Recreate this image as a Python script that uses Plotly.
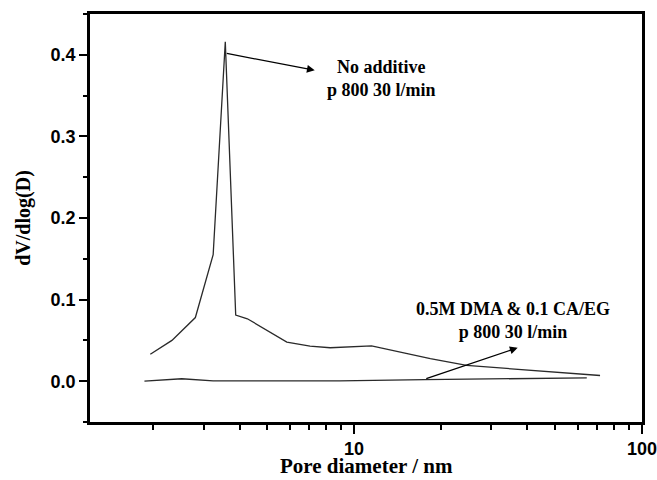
import math
import plotly.graph_objects as go

# No additive, p 800 30 l/min
d_noadd = [1.96, 2.33, 2.81, 3.24, 3.57, 3.88, 4.26, 4.97, 5.84, 7.03, 8.26, 11.5, 18.4, 24.6, 71.5]
v_noadd = [0.033, 0.050, 0.078, 0.155, 0.416, 0.081, 0.0765, 0.0626, 0.048, 0.043, 0.041, 0.0433, 0.0278, 0.0193, 0.0070]

# 0.5M DMA & 0.1 CA/EG, p 800 30 l/min
d_dma = [1.87, 2.52, 3.24, 5.0, 8.9, 17.6, 64.3]
v_dma = [0.0, 0.003, 0.0005, 0.0003, 0.0005, 0.002, 0.004]

y_major = [0.0, 0.1, 0.2, 0.3, 0.4]
y_major_labels = ["0.0", "0.1", "0.2", "0.3", "0.4"]
x_major = [10, 100]
x_major_labels = ["10", "100"]
x_minor = [2, 3, 4, 5, 6, 7, 8, 9, 20, 30, 40, 50, 60, 70, 80, 90]

serif = "Liberation Serif"
sans = "Liberation Sans"

fig = go.Figure()
fig.add_trace(go.Scatter(x=d_noadd, y=v_noadd, mode="lines",
                         line=dict(color="#2a2a2a", width=1.3), showlegend=False))
fig.add_trace(go.Scatter(x=d_dma, y=v_dma, mode="lines",
                         line=dict(color="#2a2a2a", width=1.3), showlegend=False))

L = math.log10
# arrows
fig.add_annotation(x=L(7.3), y=0.381, ax=L(3.57), ay=0.402, xref="x", yref="y",
                   axref="x", ayref="y", text="", showarrow=True,
                   arrowhead=2, arrowsize=1.2, arrowwidth=1.3, arrowcolor="black")
fig.add_annotation(x=L(37), y=0.041, ax=L(17.6), ay=0.0025, xref="x", yref="y",
                   axref="x", ayref="y", text="", showarrow=True,
                   arrowhead=2, arrowsize=1.2, arrowwidth=1.3, arrowcolor="black")
# labels
fig.add_annotation(x=L(12.5), y=0.371, xref="x", yref="y", showarrow=False,
                   text="<b>No additive<br>p 800 30 l/min</b>",
                   font=dict(family=serif, size=18, color="black"), align="center")
fig.add_annotation(x=L(35.5), y=0.075, xref="x", yref="y", showarrow=False,
                   text="<b>0.5M DMA &amp; 0.1 CA/EG<br>p 800 30 l/min</b>",
                   font=dict(family=serif, size=18, color="black"), align="center")
# x-axis title
fig.add_annotation(x=0.5, y=0, xref="paper", yref="paper", yanchor="top", yshift=-30,
                   showarrow=False, text="<b>Pore diameter / nm</b>",
                   font=dict(family=serif, size=21, color="black"))

fig.update_layout(
    width=657, height=480,
    margin=dict(l=90, r=15, t=14, b=58, autoexpand=False),
    paper_bgcolor="white", plot_bgcolor="white",
    showlegend=False,
)
fig.update_xaxes(
    type="log", range=[L(1.21), L(100)],
    tickmode="array", tickvals=x_major, ticktext=x_major_labels,
    ticks="outside", ticklen=9, tickwidth=2, tickcolor="black",
    ticklabeloverflow="allow",
    minor=dict(tickmode="array", tickvals=x_minor, ticks="outside", ticklen=5, tickwidth=2, tickcolor="black"),
    showline=True, linecolor="black", linewidth=2.5, mirror=True,
    showgrid=False, zeroline=False, automargin=False,
    tickfont=dict(family=sans, size=18, color="black", weight="bold"),
)
fig.update_yaxes(
    range=[-0.05, 0.45],
    tickmode="array", tickvals=y_major, ticktext=y_major_labels,
    ticks="outside", ticklen=8, tickwidth=2, tickcolor="black",
    minor=dict(dtick=0.05, tick0=0, ticks="outside", ticklen=4, tickwidth=2, tickcolor="black"),
    showline=True, linecolor="black", linewidth=2.5, mirror=True,
    showgrid=False, zeroline=False, automargin=False,
    tickfont=dict(family=sans, size=18, color="black", weight="bold"),
    title=dict(text="<b>dV/dlog(D)</b>", font=dict(family=serif, size=20, color="black"), standoff=15),
)
# remove the browser's default 8px body margin so the 657x480 figure fills the window
fig.write_html("out.html", config={"displayModeBar": False},
               post_script="document.body.style.margin='0';document.body.style.overflow='hidden';")
